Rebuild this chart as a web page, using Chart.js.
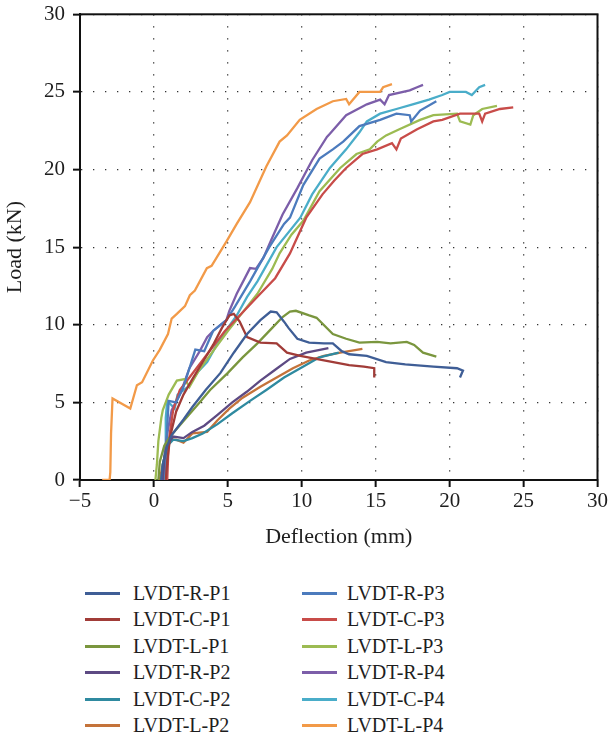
<!DOCTYPE html>
<html>
<head>
<meta charset="utf-8">
<script src="https://cdn.jsdelivr.net/npm/chart.js@4/dist/chart.umd.min.js"></script>
<style>
  html, body { margin:0; padding:0; background:#fff; }
  #wrap { position:relative; width:610px; height:738px; overflow:hidden; }
  #c { position:absolute; left:0; top:0; }
  .leg { position:absolute; font-family:"Liberation Serif", "Times New Roman", serif; font-size:20px; color:#1e1e1e; }
  .item { position:absolute; height:26px; line-height:26px; white-space:nowrap; }
  .sw { position:absolute; top:12px; width:35px; height:3px; }
  .tx { position:absolute; top:0; }
</style>
</head>
<body>
<div id="wrap">
  <canvas id="c" width="610" height="550"></canvas>
  <div id="legend" class="leg"></div>
</div>
<script>
// ---- tick labels / axis ----
const xTicks = [-5, 0, 5, 10, 15, 20, 25, 30];
const yTicks = [0, 5, 10, 15, 20, 25, 30];
const seriesNames = ['LVDT-R-P1','LVDT-C-P1','LVDT-L-P1','LVDT-R-P2','LVDT-C-P2','LVDT-L-P2',
                     'LVDT-R-P3','LVDT-C-P3','LVDT-L-P3','LVDT-R-P4','LVDT-C-P4','LVDT-L-P4'];
const seriesColors = ['#3f5e96','#a13c38','#7a963e','#5d4a83','#2f8aa0','#c4733a',
                      '#4c7bbd','#c84c49','#9cbb52','#7c5ea9','#4aadc9','#f29a48'];

// ---- series values: deflection (mm) and load (kN) ----
const rP1x = [0.5,0.6,0.9,1.2,2.0,2.6,3.5,4.5,5.4,6.3,7.2,7.9,8.3,8.8,9.1,9.7,10.5,11.5,12.1,12.7,13.2,14.4,15.7,17.0,18.9,20.5,20.9,20.7];
const rP1y = [0,1.0,2.2,2.9,3.9,4.7,5.8,6.9,8.2,9.4,10.3,10.85,10.8,10.2,9.8,9.1,8.85,8.8,8.8,8.3,8.1,8.0,7.6,7.45,7.3,7.2,7.05,6.6];

const cP1x = [0.8,0.9,1.1,1.5,2.0,2.6,3.3,4.0,4.6,5.1,5.4,5.8,6.3,7.2,8.3,9.0,9.9,11.5,13.2,14.2,14.9,14.9];
const cP1y = [0,1.2,2.8,4.4,5.5,6.5,7.6,8.7,9.8,10.6,10.7,10.2,9.2,8.85,8.8,8.2,8.0,7.7,7.4,7.3,7.2,6.6];

const lP1x = [0.3,0.4,0.7,1.1,2.0,3.0,3.8,5.0,6.0,7.0,8.0,8.7,9.2,9.6,10.5,11.0,12.1,13.0,13.9,15.1,16.0,17.1,17.6,18.2,19.1];
const lP1y = [0,1.2,2.2,2.8,3.8,4.9,5.8,6.9,7.9,8.8,9.8,10.5,10.85,10.9,10.6,10.45,9.4,9.1,8.85,8.9,8.8,8.9,8.7,8.2,7.95];

const rP2x = [0.6,0.7,0.9,1.3,2.0,2.6,3.4,4.3,5.3,6.3,7.2,8.2,9.2,10.3,11.8];
const rP2y = [0,1.3,2.3,2.8,2.7,3.1,3.5,4.2,5.0,5.7,6.4,7.1,7.8,8.2,8.5];

const cP2x = [0.5,0.6,0.9,1.3,2.0,2.6,3.3,4.3,5.3,6.5,7.6,8.8,9.9,11.2,12.5];
const cP2y = [0,1.0,2.2,2.6,2.5,2.7,3.0,3.6,4.3,5.1,5.8,6.6,7.2,7.9,8.2];

const lP2x = [0.4,0.55,0.75,1.1,1.5,2.0,2.6,3.6,4.3,5.1,6.0,7.2,8.3,9.4,10.5,11.5,12.6,14.1];
const lP2y = [0,0.8,1.6,2.6,2.6,2.4,3.0,3.1,3.85,4.6,5.3,6.0,6.6,7.2,7.7,8.0,8.2,8.45];

const rP3x = [0.8,0.85,0.9,1.0,1.5,2.0,2.4,2.8,3.4,4.0,4.9,5.5,6.5,7.8,8.8,9.2,10.1,11.2,12.1,12.8,13.9,15.3,16.4,17.3,17.4,18.0,19.1];
const rP3y = [0,1.5,3.5,5.1,5.0,6.0,7.2,8.4,8.3,9.6,10.3,11.2,12.8,15.0,16.5,16.9,19.0,20.7,21.3,21.8,22.8,23.2,23.6,23.5,23.1,23.8,24.4];

const cP3x = [0.9,1.0,1.3,1.75,2.4,3.2,4.0,4.8,5.8,7.0,8.2,9.2,10.3,11.4,12.2,13.0,14.1,15.1,16.1,16.4,16.7,17.8,18.9,19.5,20.7,22.0,22.2,22.4,23.4,24.3];
const cP3y = [0,2.5,4.5,5.8,6.6,7.6,8.6,9.6,10.6,11.8,13.0,14.6,16.9,18.4,19.3,20.1,21.0,21.3,21.7,21.3,22.0,22.6,23.1,23.2,23.6,23.6,23.1,23.6,23.9,24.0];

const lP3x = [0.1,0.2,0.3,0.5,0.6,1.0,1.55,2.1,2.4,3.0,4.0,5.0,6.0,7.0,8.0,8.5,9.3,10.1,11.2,12.6,13.7,14.6,15.1,15.7,16.6,18.0,18.9,20.5,20.7,21.4,21.6,22.2,23.2];
const lP3y = [0,1.0,2.5,4.0,4.5,5.5,6.4,6.5,6.0,7.0,8.3,9.6,10.8,12.0,13.6,14.6,15.8,16.7,18.6,20.1,21.0,21.3,21.8,22.2,22.6,23.2,23.5,23.6,23.1,22.9,23.5,23.9,24.1];

const rP4x = [0.6,0.7,0.9,1.2,1.8,2.4,3.1,3.6,4.0,4.9,5.1,5.6,6.5,6.9,7.4,8.0,8.7,9.7,10.7,11.7,11.9,13.0,14.4,15.3,15.6,15.9,17.3,17.8,18.2];
const rP4y = [0,1.5,3.0,4.5,5.6,7.2,8.3,9.2,9.6,10.3,10.9,12.0,13.65,13.6,14.3,15.6,17.1,18.8,20.6,22.1,22.3,23.5,24.2,24.5,24.2,24.8,25.1,25.3,25.45];

const cP4x = [0.7,0.75,0.8,0.9,1.4,1.6,2.3,3.0,3.6,4.3,5.0,5.6,6.3,7.0,8.3,9.9,10.7,11.9,13.0,13.9,14.4,15.3,16.4,17.5,18.6,19.5,20.0,21.1,21.5,22.0,22.4];
const cP4y = [0,2.0,4.0,5.1,4.6,5.5,6.0,7.0,7.6,8.8,9.8,10.6,11.8,12.8,15.0,16.9,18.4,20.1,21.3,22.4,23.1,23.6,23.9,24.2,24.5,24.8,25.0,25.0,24.8,25.3,25.45];

const lP4x = [-3.5,-3.0,-2.95,-2.9,-2.8,-1.6,-1.15,-0.8,-0.07,0.4,0.95,1.2,1.55,2.1,2.43,2.77,3.58,3.9,4.93,5.6,6.5,7.6,8.5,9.0,9.86,11.0,12.1,13.0,13.2,13.9,15.3,15.5,16.1];
const lP4y = [0,0,0.5,3.0,5.25,4.6,6.1,6.3,7.7,8.4,9.4,10.4,10.7,11.2,11.9,12.2,13.65,13.8,15.4,16.5,17.9,20.2,21.8,22.2,23.2,23.9,24.4,24.55,24.2,25.0,25.0,25.3,25.5];

const allX = [rP1x,cP1x,lP1x,rP2x,cP2x,lP2x,rP3x,cP3x,lP3x,rP4x,cP4x,lP4x];
const allY = [rP1y,cP1y,lP1y,rP2y,cP2y,lP2y,rP3y,cP3y,lP3y,rP4y,cP4y,lP4y];

const FONT = '"Liberation Serif", "Times New Roman", serif';

const datasets = seriesNames.map((name, i) => ({
  label: name,
  data: allX[i].map((x, k) => ({x: x, y: allY[i][k]})),
  borderColor: seriesColors[i],
  backgroundColor: seriesColors[i],
  borderWidth: 2.3,
  pointRadius: 0,
  fill: false,
  tension: 0
}));

const frame = {
  id: 'frame',
  beforeDatasetsDraw(chart) {
    const a = chart.chartArea, ctx = chart.ctx;
    ctx.save();
    ctx.strokeStyle = '#111';
    ctx.lineWidth = 2;
    ctx.strokeRect(a.left, a.top, a.right - a.left, a.bottom - a.top);
    ctx.restore();
  }
};

const minus = v => (v < 0 ? '\u2212' + Math.abs(v) : String(v));

new Chart(document.getElementById('c'), {
  type: 'line',
  data: { datasets },
  plugins: [frame],
  options: {
    responsive: false,
    animation: false,
    devicePixelRatio: 1,
    layout: { padding: { left: 0, right: 12, top: 12, bottom: 0 } },
    plugins: { legend: { display: false }, tooltip: { enabled: false } },
    scales: {
      x: {
        type: 'linear', min: xTicks[0], max: xTicks[xTicks.length - 1],
        afterBuildTicks: ax => { ax.ticks = xTicks.map(v => ({value: v})); },
        ticks: { color: '#1e1e1e', font: { family: FONT, size: 21 }, padding: 2, maxRotation: 0, callback: v => minus(v) },
        grid: { color: '#333', lineWidth: 1.3, tickLength: 7, tickWidth: 2, tickColor: '#111', tickBorderDash: [] },
        border: { color: '#111', width: 2, dash: [1.3, 10.7] },
        title: { display: true, text: 'Deflection (mm)', color: '#1e1e1e', font: { family: FONT, size: 22 }, padding: { top: 4, bottom: 0 } },
        afterFit: ax => { ax.height = 70; }
      },
      y: {
        type: 'linear', min: yTicks[0], max: yTicks[yTicks.length - 1],
        afterBuildTicks: ax => { ax.ticks = yTicks.map(v => ({value: v})); },
        ticks: { color: '#1e1e1e', font: { family: FONT, size: 21, lineHeight: 0.6 }, padding: 8, callback: v => minus(v) },
        grid: { color: '#333', lineWidth: 1.3, tickLength: 7, tickWidth: 2, tickColor: '#111', tickBorderDash: [] },
        border: { color: '#111', width: 2, dash: [1.3, 10.7] },
        title: { display: true, text: 'Load (kN)', color: '#1e1e1e', font: { family: FONT, size: 22 }, padding: { top: 2, bottom: 6 } },
        afterFit: ax => { ax.width = 80; }
      }
    }
  }
});

// HTML legend in two columns (P1,P2 left; P3,P4 right)
const leg = document.getElementById('legend');
seriesNames.forEach((name, i) => {
  const col = i < 6 ? 0 : 1;
  const row = i % 6;
  const it = document.createElement('div');
  it.className = 'item';
  it.style.left = (col === 0 ? 85 : 302) + 'px';
  it.style.top = (580 + row * 26.4) + 'px';
  const sw = document.createElement('div');
  sw.className = 'sw';
  sw.style.background = seriesColors[i];
  sw.style.left = '0px';
  const tx = document.createElement('div');
  tx.className = 'tx';
  tx.style.left = (col === 0 ? 48 : 45) + 'px';
  tx.textContent = name;
  it.appendChild(sw); it.appendChild(tx);
  leg.appendChild(it);
});
</script>
</body>
</html>
